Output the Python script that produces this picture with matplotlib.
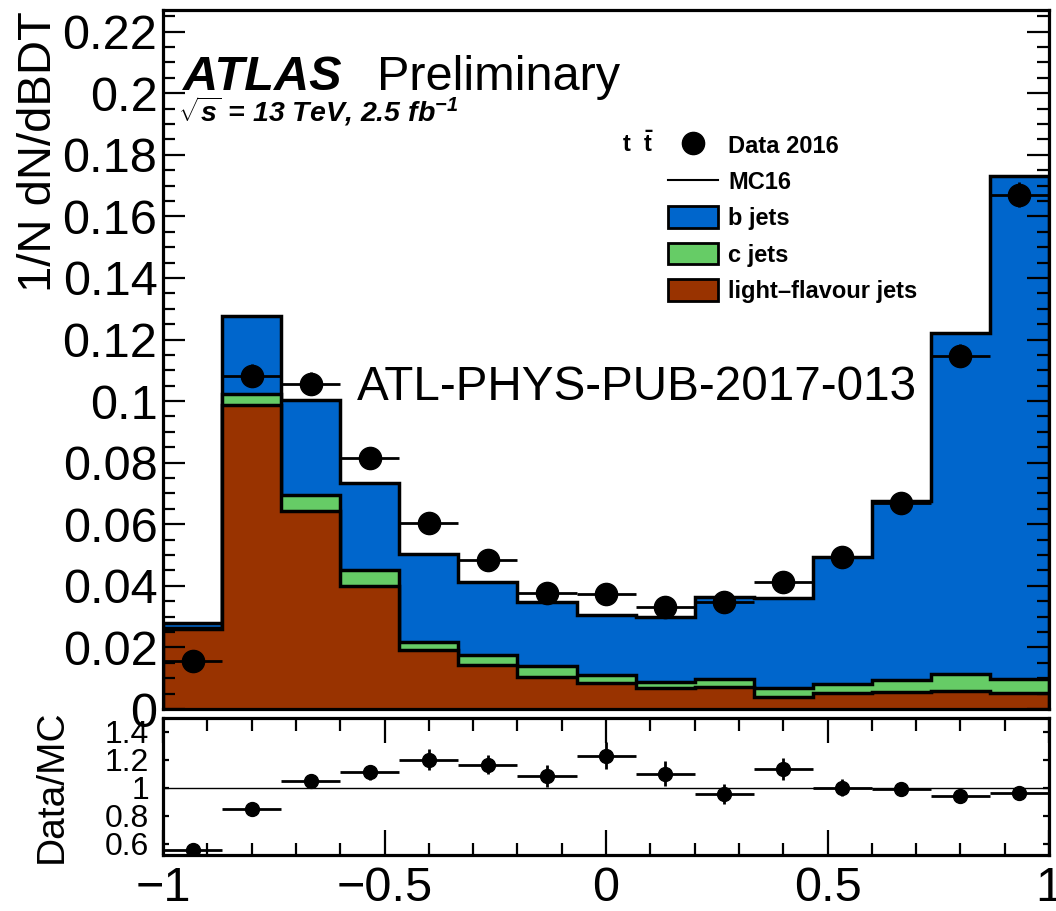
import numpy as np
import matplotlib
matplotlib.use("Agg")
import matplotlib.pyplot as plt
from matplotlib.ticker import MultipleLocator, FixedLocator, FuncFormatter
from matplotlib.lines import Line2D
from matplotlib.patches import Patch

plt.rcParams['font.family'] = ['Liberation Sans', 'DejaVu Sans']
plt.rcParams['mathtext.fontset'] = 'custom'
plt.rcParams['mathtext.rm'] = 'Liberation Sans:bold:italic'
plt.rcParams['mathtext.it'] = 'Liberation Sans:bold:italic'
plt.rcParams['mathtext.bf'] = 'Liberation Sans:bold'

# BDT bins (15 equal bins from -1 to 1)
bin_edges = np.linspace(-1, 1, 16)

# stacked MC fractions per bin
light_jets = [0.026, 0.0988, 0.0643, 0.0398, 0.0192, 0.0144, 0.0104, 0.0085,
              0.0068, 0.0072, 0.0039, 0.0052, 0.0055, 0.0059, 0.0052]
c_jets = [0.0003, 0.0036, 0.0052, 0.0055, 0.0027, 0.0032, 0.0036, 0.0027,
          0.0020, 0.0026, 0.0029, 0.0030, 0.0040, 0.0055, 0.0046]
mc_total = [0.0281, 0.1275, 0.1005, 0.0734, 0.0502, 0.0414, 0.0349, 0.0305,
            0.0300, 0.0365, 0.0362, 0.0493, 0.0675, 0.1220, 0.1732]

# data 2016
data = [0.0157, 0.1083, 0.1057, 0.0815, 0.0603, 0.0483, 0.0378, 0.0375,
        0.0330, 0.0349, 0.0411, 0.0493, 0.0668, 0.1148, 0.1670]
data_err = [0.002, 0.0038, 0.0038, 0.003, 0.003, 0.003, 0.003, 0.003,
            0.003, 0.003, 0.003, 0.003, 0.003, 0.0038, 0.004]
ratio_err = [0.03, 0.03, 0.04, 0.055, 0.075, 0.07, 0.08, 0.095,
             0.09, 0.07, 0.08, 0.06, 0.05, 0.04, 0.04]

blue = '#0066cc'
green = '#66cc66'
brown = '#993300'

light = np.array(light_jets)
light_c = light + np.array(c_jets)
total = np.array(mc_total)
centers = 0.5 * (bin_edges[1:] + bin_edges[:-1])
half_w = 0.5 * np.diff(bin_edges)
ratio = np.array(data) / total

fig = plt.figure(figsize=(10.56, 9.11), dpi=100)
ax = fig.add_axes([0.1544, 0.2217, 0.839, 0.7673])
rax = fig.add_axes([0.1544, 0.0615, 0.839, 0.1504])

# stack drawn ROOT-style: each layer filled from zero
ax.stairs(total, bin_edges, baseline=0, fill=True, facecolor=blue,
          edgecolor='black', linewidth=2.5)
ax.stairs(light_c, bin_edges, baseline=0, fill=True, facecolor=green,
          edgecolor='black', linewidth=2.5)
ax.stairs(light, bin_edges, baseline=0, fill=True, facecolor=brown,
          edgecolor='black', linewidth=2.5)

ax.errorbar(centers, data, xerr=half_w, yerr=data_err, fmt='o', color='black',
            markersize=16, elinewidth=2, capsize=0, zorder=5)

ax.set_xlim(-1, 1)
ax.set_ylim(0, 0.227)
ax.set_xticks([])
ax.yaxis.set_major_locator(MultipleLocator(0.02))
ax.yaxis.set_minor_locator(MultipleLocator(0.005))
ax.yaxis.set_major_formatter(FuncFormatter(lambda v, p: f'{v:g}'))
ax.tick_params(axis='y', which='both', direction='in', left=True, right=True,
               labelsize=35, pad=4, width=1.6)
ax.tick_params(axis='y', which='major', length=16)
ax.tick_params(axis='y', which='minor', length=8.5)
ax.set_ylabel('1/N dN/dBDT', fontsize=34)
ax.yaxis.set_label_coords(-0.115, 0.797)
for s in ax.spines.values():
    s.set_linewidth(2.3)

# legend
handles = [Line2D([], [], marker='o', ls='none', color='black', markersize=16),
           Line2D([], [], color='black', lw=1.5),
           Patch(facecolor=blue, edgecolor='black', lw=2),
           Patch(facecolor=green, edgecolor='black', lw=2),
           Patch(facecolor=brown, edgecolor='black', lw=2)]
labels = ['Data 2016', 'MC16', 'b jets', 'c jets', 'light\u2013flavour jets']
leg = ax.legend(handles, labels, loc='upper left', bbox_to_anchor=(0.570, 0.823),
                frameon=False, prop={'weight': 'bold', 'size': 17},
                handlelength=2.1, handleheight=1.05, labelspacing=0.52,
                handletextpad=0.45, borderpad=0, borderaxespad=0)

fig.text(622 / 1056, 1 - 152 / 911, r'$\mathbf{t\ \ \bar{t}}$', fontsize=17)
fig.text(183 / 1056, 1 - 90 / 911, 'ATLAS', fontsize=35, fontweight='bold',
         fontstyle='italic')
fig.text(377 / 1056, 1 - 90 / 911, 'Preliminary', fontsize=35)
fig.text(178 / 1056, 1 - 122 / 911,
         r'$\sqrt{s}$ = 13 TeV, 2.5 fb$^{-1}$', fontsize=20.5,
         fontweight='bold', fontstyle='italic')
fig.text(357 / 1056, 1 - 400 / 911, 'ATL-PHYS-PUB-2017-013', fontsize=34.3,
         zorder=10)

# ratio panel
rax.axhline(1, color='black', lw=1)
rax.errorbar(centers, ratio, xerr=half_w, yerr=ratio_err, fmt='o', color='black',
             markersize=10, elinewidth=2, capsize=0, zorder=5)
rax.set_xlim(-1, 1)
rax.set_ylim(0.52, 1.5)
rax.xaxis.set_major_locator(MultipleLocator(0.5))
rax.xaxis.set_minor_locator(MultipleLocator(0.1))
fmt = FuncFormatter(lambda v, p: f'{v:g}'.replace('-', '\u2212'))
rax.xaxis.set_major_formatter(fmt)
rax.yaxis.set_major_locator(FixedLocator([0.6, 0.8, 1.0, 1.2, 1.4]))
rax.yaxis.set_major_formatter(FuncFormatter(lambda v, p: f'{v:g}'))
rax.tick_params(axis='x', which='both', direction='in', top=True, bottom=True,
                labelsize=35, pad=8, width=1.6)
rax.tick_params(axis='x', which='major', length=18)
rax.tick_params(axis='x', which='minor', length=9)
rax.tick_params(axis='y', which='major', direction='in', left=True, right=True,
                length=4, width=1.6, labelsize=23, pad=10)
rax.set_ylabel('Data/MC', fontsize=28)
rax.yaxis.set_label_coords(-0.105, 0.5)
for s in rax.spines.values():
    s.set_linewidth(2.3)

fig.savefig('out.png', dpi=100)
